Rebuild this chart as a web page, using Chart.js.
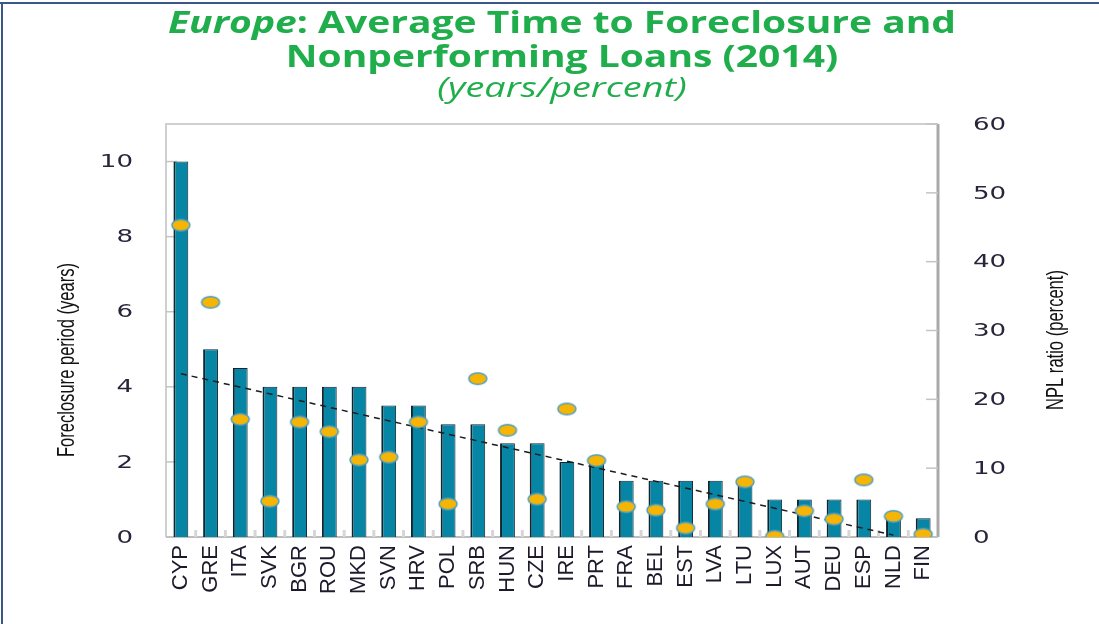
<!DOCTYPE html>
<html>
<head>
<meta charset="utf-8">
<script src="https://cdn.jsdelivr.net/npm/chart.js@4.4.1/dist/chart.umd.min.js"></script>
<style>
  body { margin: 0; background: #fff; }
  canvas { display: block; }
</style>
</head>
<body>
<canvas id="npl" width="1099" height="624"></canvas>
<script>
var categories = ['CYP', 'GRE', 'ITA', 'SVK', 'BGR', 'ROU', 'MKD', 'SVN', 'HRV', 'POL', 'SRB', 'HUN', 'CZE',
  'IRE', 'PRT', 'FRA', 'BEL', 'EST', 'LVA', 'LTU', 'LUX', 'AUT', 'DEU', 'ESP', 'NLD', 'FIN'];
// foreclosure period, years (left axis)
var foreclosureYears = [10, 5, 4.5, 4, 4, 4, 4, 3.5, 3.5, 3, 3, 2.5, 2.5,
  2, 2, 1.5, 1.5, 1.5, 1.5, 1.5, 1, 1, 1, 1, 0.6, 0.5];
// NPL ratio, percent (right axis)
var nplRatio = [45.3, 34.1, 17.1, 5.2, 16.7, 15.3, 11.2, 11.6, 16.7, 4.8, 23.0, 15.5, 5.5,
  18.6, 11.1, 4.4, 3.9, 1.3, 4.8, 8.0, 0.1, 3.8, 2.6, 8.3, 3.0, 0.4];
// dashed trend line end points (years)
var trendLine = [['CYP', 4.35], ['NLD', 0.05]];
var yearTicks = [0, 2, 4, 6, 8, 10];
var percentTicks = [0, 10, 20, 30, 40, 50, 60];

var green = '#1fae4b';
var tickColor = '#29243a';

function makeDot() {
  var c = document.createElement('canvas');
  c.width = 22;
  c.height = 15;
  var g = c.getContext('2d');
  g.beginPath();
  g.ellipse(11, 7.5, 9, 5.8, 0, 0, Math.PI * 2);
  g.fillStyle = '#f6b504';
  g.fill();
  g.lineWidth = 1.5;
  g.strokeStyle = '#4f9fc2';
  g.stroke();
  return c;
}

// text drawn wider than the font, like the scanned original
function wideText(ctx, text, x, y, align, sx) {
  var w = ctx.measureText(text).width * sx;
  var left = align === 'center' ? x - w / 2 : (align === 'right' ? x - w : x);
  ctx.save();
  ctx.textAlign = 'left';
  ctx.translate(left, y);
  ctx.scale(sx, 1);
  ctx.fillText(text, 0, 0);
  ctx.restore();
  return w;
}

// plot frame, inner tick marks and the small category ticks
var frame = {
  id: 'frame',
  beforeDatasetsDraw: function(chart) {
    var ctx = chart.ctx, a = chart.chartArea;
    var y = chart.scales.y, y1 = chart.scales.y1, x = chart.scales.x;
    ctx.save();
    ctx.lineWidth = 2;
    ctx.strokeStyle = '#cfcfcf';
    ctx.beginPath();
    ctx.moveTo(a.left, a.bottom); ctx.lineTo(a.left, a.top); ctx.lineTo(a.right, a.top);
    ctx.stroke();
    ctx.strokeStyle = '#bdbdbd';
    ctx.beginPath();
    ctx.moveTo(a.left, a.bottom); ctx.lineTo(a.right, a.bottom);
    ctx.stroke();
    ctx.lineWidth = 3;
    ctx.strokeStyle = '#a9a9a9';
    ctx.beginPath();
    ctx.moveTo(a.right, a.top); ctx.lineTo(a.right, a.bottom);
    ctx.stroke();

    ctx.lineWidth = 1.5;
    ctx.strokeStyle = '#c4c4c4';
    yearTicks.forEach(function(v) {
      var py = y.getPixelForValue(v);
      ctx.beginPath(); ctx.moveTo(a.left, py); ctx.lineTo(a.left + 11, py); ctx.stroke();
    });
    percentTicks.forEach(function(v) {
      var py = y1.getPixelForValue(v);
      ctx.beginPath(); ctx.moveTo(a.right - 12, py); ctx.lineTo(a.right, py); ctx.stroke();
    });
    ctx.lineWidth = 3;
    ctx.strokeStyle = '#d6d6d6';
    for (var i = 1; i < categories.length; i++) {
      var px = (x.getPixelForValue(i - 1) + x.getPixelForValue(i)) / 2;
      ctx.beginPath(); ctx.moveTo(px, a.bottom); ctx.lineTo(px, a.bottom - 7); ctx.stroke();
    }

    // value labels of both y axes
    ctx.fillStyle = tickColor;
    ctx.font = '18px "DejaVu Sans"';
    ctx.textBaseline = 'middle';
    yearTicks.forEach(function(v) {
      wideText(ctx, String(v), a.left - 33, y.getPixelForValue(v) + 1, 'right', 1.45);
    });
    percentTicks.forEach(function(v) {
      wideText(ctx, String(v), a.right + 35, y1.getPixelForValue(v) + 1, 'left', 1.45);
    });
    ctx.restore();
  },
  afterDraw: function(chart) {
    var ctx = chart.ctx;
    ctx.save();
    // outer frame
    ctx.fillStyle = '#3b5788';
    ctx.fillRect(0, 2, chart.width, 2);
    ctx.fillRect(1, 2, 2, chart.height);

    // title
    ctx.fillStyle = green;
    ctx.textBaseline = 'middle';
    var cx = 562, sx = 1.3;
    var f1 = 'italic bold 30px "Open Sans"';
    var f2 = 'bold 30px "Open Sans"';
    var rest = ': Average Time to Foreclosure and';
    ctx.font = f1;
    var w1 = ctx.measureText('Europe').width * sx;
    ctx.font = f2;
    var w2 = ctx.measureText(rest).width * sx;
    var left = cx - (w1 + w2) / 2;
    ctx.font = f1;
    wideText(ctx, 'Europe', left, 24, 'left', sx);
    ctx.font = f2;
    wideText(ctx, rest, left + w1, 24, 'left', sx);
    wideText(ctx, 'Nonperforming Loans (2014)', cx, 58, 'center', sx);
    ctx.font = 'italic 27px "Open Sans"';
    wideText(ctx, '(years/percent)', cx, 89, 'center', 1.4);

    // axis titles, both read bottom to top
    ctx.fillStyle = '#111';
    ctx.font = '18px "Liberation Sans", sans-serif';
    ctx.textAlign = 'center';
    ctx.translate(68, 360);
    ctx.rotate(-Math.PI / 2);
    ctx.scale(0.92, 1.3);
    ctx.fillText('Foreclosure period (years)', 0, 0);
    ctx.setTransform(1, 0, 0, 1, 0, 0);
    ctx.translate(1057, 340);
    ctx.rotate(-Math.PI / 2);
    ctx.scale(0.92, 1.3);
    ctx.fillText('NPL ratio (percent)', 0, 0);
    ctx.restore();
  }
};

var ctx = document.getElementById('npl').getContext('2d');
var chart = new Chart(ctx, {
  type: 'bar',
  data: {
    labels: categories,
    datasets: [{
      type: 'line',
      label: 'NPL ratio',
      data: nplRatio,
      yAxisID: 'y1',
      showLine: false,
      pointStyle: makeDot(),
      order: 1
    }, {
      type: 'line',
      label: 'Trend',
      data: trendLine.map(function(p) { return { x: p[0], y: p[1] }; }),
      yAxisID: 'y',
      borderColor: '#1c1c1c',
      borderWidth: 1.5,
      borderDash: [6, 5],
      pointRadius: 0,
      fill: false,
      order: 2
    }, {
      label: 'Foreclosure period',
      data: foreclosureYears,
      yAxisID: 'y',
      backgroundColor: '#0785a5',
      borderColor: '#10262e',
      borderWidth: { left: 2, right: 1, top: 1, bottom: 0 },
      categoryPercentage: 1,
      barPercentage: 0.5,
      order: 3
    }]
  },
  options: {
    responsive: false,
    animation: false,
    layout: { padding: { top: 124, left: 0, right: 0, bottom: 0 } },
    plugins: {
      legend: { display: false },
      title: { display: false },
      tooltip: { enabled: false }
    },
    scales: {
      x: {
        offset: true,
        grid: { display: false, drawTicks: false },
        border: { display: false },
        ticks: {
          autoSkip: false,
          minRotation: 90,
          maxRotation: 90,
          padding: 8,
          color: '#1e1a2c',
          font: { family: 'Liberation Sans', size: 22 }
        },
        afterFit: function(s) { s.height = 87; }
      },
      y: {
        position: 'left',
        min: 0,
        max: 11,
        grid: { display: false, drawTicks: false },
        border: { display: false },
        ticks: { display: false },
        afterFit: function(s) { s.width = 166; }
      },
      y1: {
        position: 'right',
        min: 0,
        max: 60,
        grid: { display: false, drawTicks: false },
        border: { display: false },
        ticks: { display: false },
        afterFit: function(s) { s.width = 161; }
      }
    }
  },
  plugins: [frame]
});
</script>
</body>
</html>
